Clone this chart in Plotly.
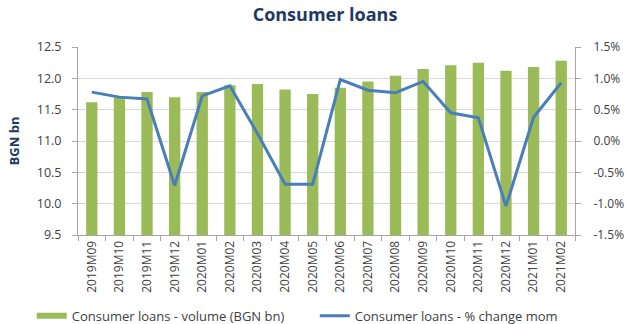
import plotly.graph_objects as go

months = ["2019M09", "2019M10", "2019M11", "2019M12", "2020M01", "2020M02",
          "2020M03", "2020M04", "2020M05", "2020M06", "2020M07", "2020M08",
          "2020M09", "2020M10", "2020M11", "2020M12", "2021M01", "2021M02"]
volume_bgn_bn = [11.62, 11.70, 11.78, 11.70, 11.78, 11.89,
                 11.91, 11.82, 11.75, 11.85, 11.95, 12.04,
                 12.15, 12.21, 12.25, 12.12, 12.18, 12.28]
change_mom_pct = [0.78, 0.70, 0.67, -0.71, 0.72, 0.88,
                  0.12, -0.69, -0.69, 0.98, 0.81, 0.77,
                  0.95, 0.45, 0.37, -1.04, 0.38, 0.93]
left_ticks = [9.5, 10.0, 10.5, 11.0, 11.5, 12.0, 12.5]
right_ticks = [-1.5, -1.0, -0.5, 0.0, 0.5, 1.0, 1.5]

GREEN = "#9BBB59"
BLUE = "#4A7EBB"
NAVY = "#1F3864"
TXT = "#404040"
GRID = "#D9D9D9"
AXIS = "#A6A6A6"
FONT = "Open Sans"
VOL_NAME = "Consumer loans - volume (BGN bn)"
CHG_NAME = "Consumer loans - % change mom"

fig = go.Figure()
fig.add_trace(go.Bar(
    x=months, y=volume_bgn_bn, name=VOL_NAME, showlegend=False,
    legendgroup="vol",
    marker=dict(color=GREEN, line=dict(width=0)), yaxis="y"))
# legend-only entry giving the wide green swatch of the reference
fig.add_trace(go.Scatter(
    x=[None], y=[None], name=VOL_NAME, legendgroup="vol",
    mode="lines", line=dict(color=GREEN, width=6), yaxis="y"))
fig.add_trace(go.Scatter(
    x=months, y=change_mom_pct, name=CHG_NAME,
    mode="lines", line=dict(color=BLUE, width=3), yaxis="y2"))

fig.update_layout(
    width=626, height=324,
    margin=dict(l=78, r=51, t=47, b=89, autoexpand=False),
    paper_bgcolor="white", plot_bgcolor="white",
    font=dict(family=FONT, size=12, color=TXT),
    title=dict(text="<b>Consumer loans</b>", x=325 / 626, xanchor="center",
               y=1 - 15 / 324, yanchor="middle",
               font=dict(family=FONT, size=18, color=NAVY)),
    bargap=0.59,
    showlegend=True,
    legend=dict(orientation="h", x=-0.093, xanchor="left", y=-0.43,
                yanchor="middle", font=dict(family=FONT, size=13, color=TXT),
                entrywidth=238, entrywidthmode="pixels",
                bgcolor="rgba(0,0,0,0)"),
    xaxis=dict(type="category", tickangle=-90, tickson="boundaries",
               ticks="outside", ticklen=5, tickcolor=AXIS,
               showline=True, linecolor=AXIS, linewidth=1,
               showgrid=False, tickfont=dict(size=12, color=TXT)),
    yaxis=dict(range=[9.5, 12.5], tickvals=left_ticks, tickformat=".1f",
               showgrid=True, gridcolor=GRID, gridwidth=1,
               showline=True, linecolor=AXIS, linewidth=1,
               ticks="outside", ticklen=5, tickcolor=AXIS,
               ticklabelstandoff=8, zeroline=False,
               title=dict(text="<b>BGN bn</b>", standoff=14,
                          font=dict(family=FONT, size=13, color=NAVY)),
               tickfont=dict(size=12.5, color=TXT)),
    yaxis2=dict(range=[-1.5, 1.5], tickvals=right_ticks,
                ticktext=[f"{v:.1f}%" for v in right_ticks],
                overlaying="y", side="right", showgrid=False,
                showline=True, linecolor=AXIS, linewidth=1,
                ticks="outside", ticklen=5, tickcolor=AXIS,
                ticklabelstandoff=10, zeroline=False,
                tickfont=dict(size=12, color=TXT)),
)

fig.write_html("out.html", config={"displayModeBar": False},
               post_script="document.body.style.margin='0';document.body.style.overflow='hidden';")
